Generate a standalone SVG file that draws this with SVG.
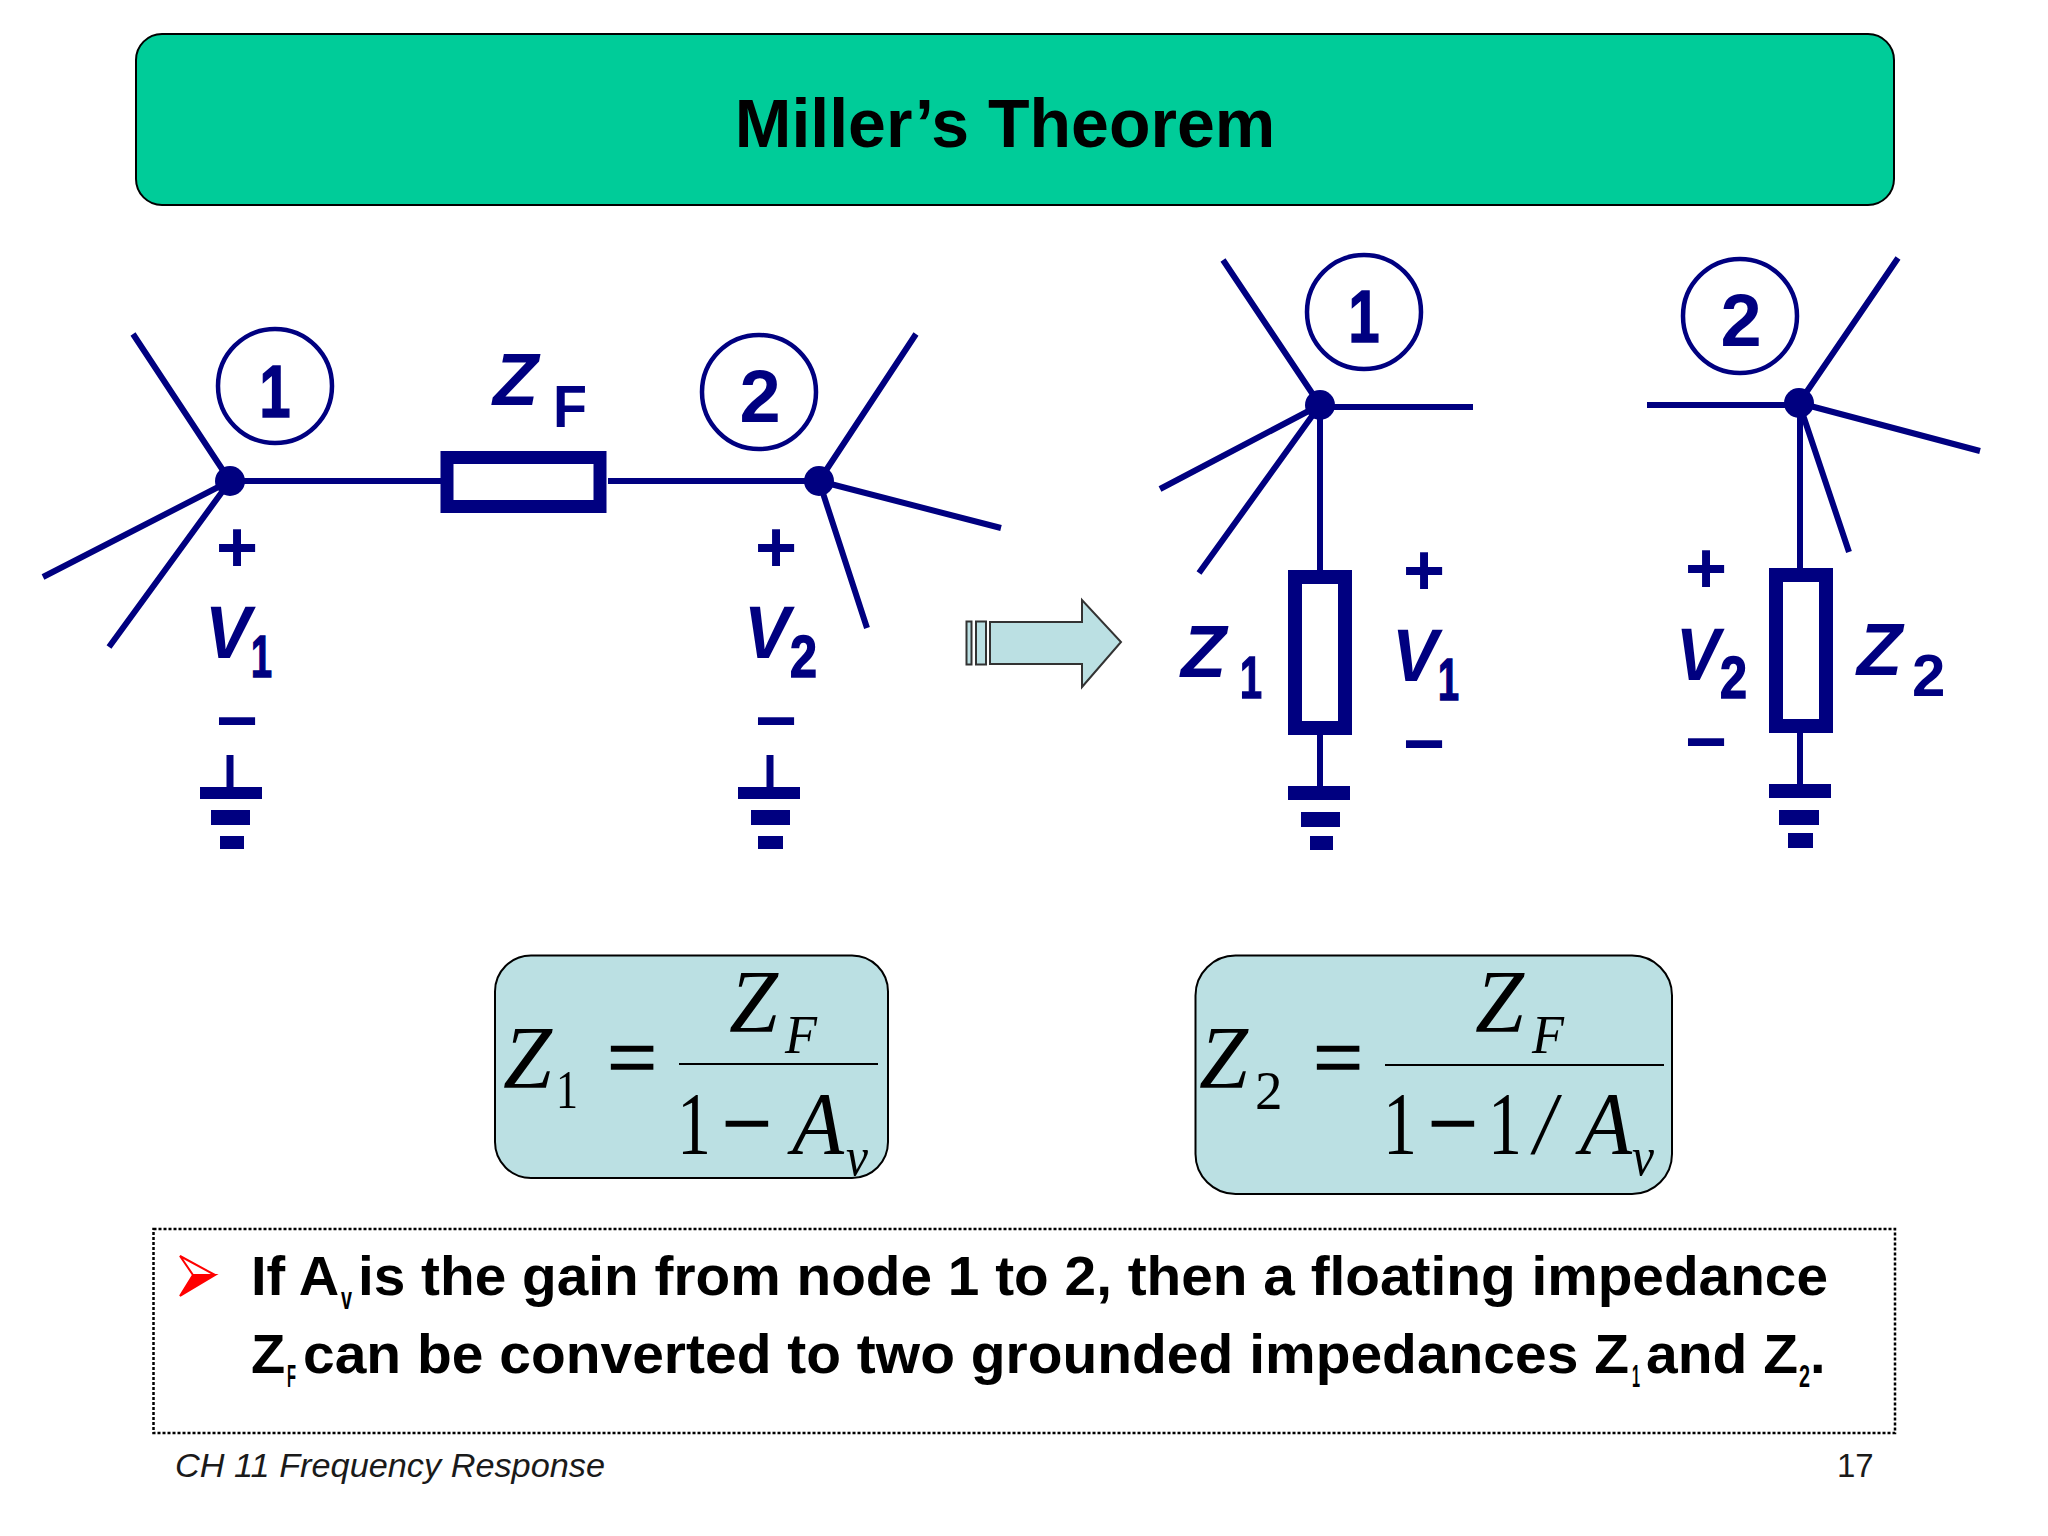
<svg xmlns="http://www.w3.org/2000/svg" width="2048" height="1536" viewBox="0 0 2048 1536">
<style>
.w{stroke:#000080;stroke-width:6;fill:none}
.c{stroke:#000080;stroke-width:4.500;fill:#fff}
.n{fill:#000080}
.s{font-family:"Liberation Sans",Arial,sans-serif}
.lab{font-family:"Liberation Sans",Arial,sans-serif;font-weight:bold;fill:#000080}
.fat{stroke:#000080;stroke-width:1.600}
.big{font-size:74px;font-style:italic}
.sub{font-size:60px}
.num{font-size:74px;text-anchor:middle}
.pm{font-size:72px;text-anchor:middle}
.m{font-family:"Liberation Serif","Times New Roman",serif;fill:#000}
.mi{font-size:88px;font-style:italic}
.mr{font-size:88px}
.ms{font-size:55px}
.th{stroke:#000;stroke-width:1.6}
.body{font-family:"Liberation Sans",Arial,sans-serif;font-weight:bold;font-size:56px;fill:#000}
.sb{font-family:"Liberation Sans",Arial,sans-serif;font-weight:bold;font-size:32px;fill:#000}
.foot{font-family:"Liberation Sans",Arial,sans-serif;font-size:33px;fill:#1a1a1a}
.box{fill:#BBE0E3;stroke:#000;stroke-width:2}
</style>
<rect width="2048" height="1536" fill="#fff"/>
<g id="title">
<rect x="136" y="34" width="1758" height="171" rx="26" fill="#00CC99" stroke="#000" stroke-width="2"/>
<text x="1005" y="147" text-anchor="middle" class="s" font-weight="bold" font-size="68" fill="#000">Miller’s Theorem</text>
</g>
<g id="connectors">
<path class="w" d="M133 334L230 481M43 577L230 481M109 647L230 481M230 481H441M608 481H819M916 334L819 481M1001 528L819 481M867 628L819 481"/>
<path class="w" d="M1223 260L1320 405M1473 407H1320M1160 489L1320 405M1199 573L1320 405M1320 405V575M1320 735V790"/>
<path class="w" d="M1898 258L1799 403M1647 405H1799M1980 451L1799 403M1849 552L1799 403M1800 403V575M1800 733V788"/>
<path class="w" d="M230 755V790M770 755V790" style="stroke-width:7"/>
</g>
<g id="node-1-left">
<circle class="n" cx="230" cy="481" r="15"/>
<circle class="c" cx="275" cy="386" r="57"/>
<text class="lab num fat" x="275" y="417" textLength="31" lengthAdjust="spacingAndGlyphs">1</text>
<text class="lab pm" x="237" y="572">+</text>
<text class="lab big" x="205" y="658" textLength="46" lengthAdjust="spacingAndGlyphs">V</text><text class="lab sub fat" x="251" y="677" textLength="21" lengthAdjust="spacingAndGlyphs">1</text>
<text class="lab pm" x="237" y="745">−</text>
<rect class="n" x="200" y="787" width="62" height="12"/><rect class="n" x="211" y="810" width="39" height="15"/><rect class="n" x="220" y="836" width="24" height="13"/>
</g>
<g id="impedance-zf">
<rect x="447" y="457.500" width="153" height="49" fill="#fff" stroke="#000080" stroke-width="13"/>
<text class="lab big" x="493" y="405">Z</text><text class="lab sub" x="553" y="427" textLength="34" lengthAdjust="spacingAndGlyphs">F</text>
</g>
<g id="node-2-left">
<circle class="n" cx="819" cy="481" r="15"/>
<circle class="c" cx="759" cy="392" r="57"/>
<text class="lab num" x="760" y="422">2</text>
<text class="lab pm" x="776" y="572">+</text>
<text class="lab big" x="744" y="658" textLength="46" lengthAdjust="spacingAndGlyphs">V</text><text class="lab sub fat" x="790" y="677" textLength="27" lengthAdjust="spacingAndGlyphs">2</text>
<text class="lab pm" x="776" y="745">−</text>
<rect class="n" x="738" y="787" width="62" height="12"/><rect class="n" x="751" y="810" width="39" height="15"/><rect class="n" x="758" y="836" width="25" height="13"/>
</g>
<g id="arrow">
<rect x="966.500" y="621.500" width="5" height="43" fill="#BBE0E3" stroke="#333" stroke-width="2"/>
<rect x="976" y="621.500" width="10" height="43" fill="#BBE0E3" stroke="#333" stroke-width="2"/>
<path d="M990 622H1082V600L1121 642L1082 687V664H990Z" fill="#BBE0E3" stroke="#333" stroke-width="2"/>
</g>
<g id="node-1-right">
<circle class="n" cx="1320" cy="405" r="15"/>
<circle class="c" cx="1364" cy="312" r="57"/>
<text class="lab num fat" x="1364" y="342" textLength="31" lengthAdjust="spacingAndGlyphs">1</text>
<rect x="1295" y="577" width="50" height="151" fill="#fff" stroke="#000080" stroke-width="14"/>
<text class="lab big" x="1181" y="677">Z</text><text class="lab sub fat" x="1240" y="698" textLength="22" lengthAdjust="spacingAndGlyphs">1</text>
<text class="lab pm" x="1424" y="595">+</text>
<text class="lab big" x="1392" y="681" textLength="46" lengthAdjust="spacingAndGlyphs">V</text><text class="lab sub fat" x="1438" y="700" textLength="21" lengthAdjust="spacingAndGlyphs">1</text>
<text class="lab pm" x="1424" y="768">−</text>
<rect class="n" x="1288" y="786" width="62" height="14"/><rect class="n" x="1301" y="812" width="39" height="15"/><rect class="n" x="1310" y="836" width="23" height="14"/>
</g>
<g id="node-2-right">
<circle class="n" cx="1799" cy="403" r="15"/>
<circle class="c" cx="1740" cy="316" r="57"/>
<text class="lab num" x="1741" y="346">2</text>
<rect x="1776" y="575" width="50" height="151" fill="#fff" stroke="#000080" stroke-width="14"/>
<text class="lab big" x="1857" y="675">Z</text><text class="lab sub" x="1912" y="696">2</text>
<text class="lab pm" x="1706" y="593">+</text>
<text class="lab big" x="1676" y="680" textLength="44" lengthAdjust="spacingAndGlyphs">V</text><text class="lab sub fat" x="1720" y="698" textLength="27" lengthAdjust="spacingAndGlyphs">2</text>
<text class="lab pm" x="1706" y="766">−</text>
<rect class="n" x="1769" y="784" width="62" height="14"/><rect class="n" x="1779" y="810" width="40" height="15"/><rect class="n" x="1788" y="833" width="25" height="15"/>
</g>
<g id="formula-z1">
<rect class="box" x="495" y="955.500" width="393" height="222.500" rx="36"/>
<text class="m mi" x="503" y="1087">Z</text><text class="m ms" x="556" y="1108" textLength="22" lengthAdjust="spacingAndGlyphs">1</text>
<text class="m mr th" x="632" y="1087" text-anchor="middle">=</text>
<line x1="679" y1="1064" x2="878" y2="1064" stroke="#000" stroke-width="2"/>
<text class="m mi" x="729" y="1031">Z</text><text class="m mi" style="font-size:55px" x="785" y="1053" textLength="32" lengthAdjust="spacingAndGlyphs">F</text>
<text class="m mr" x="677" y="1153" textLength="34" lengthAdjust="spacingAndGlyphs">1</text>
<text class="m mr th" x="747" y="1153" text-anchor="middle">−</text>
<text class="m mi" x="792" y="1153" textLength="52" lengthAdjust="spacingAndGlyphs">A</text><text class="m mi" style="font-size:55px" x="846" y="1175" textLength="22" lengthAdjust="spacingAndGlyphs">v</text>
</g>
<g id="formula-z2">
<rect class="box" x="1195.500" y="955.500" width="476.500" height="238.500" rx="40"/>
<text class="m mi" x="1199" y="1087">Z</text><text class="m ms" x="1255" y="1109">2</text>
<text class="m mr th" x="1338" y="1087" text-anchor="middle">=</text>
<line x1="1385" y1="1065" x2="1664" y2="1065" stroke="#000" stroke-width="2"/>
<text class="m mi" x="1475" y="1031">Z</text><text class="m mi" style="font-size:55px" x="1532" y="1053" textLength="32" lengthAdjust="spacingAndGlyphs">F</text>
<text class="m mr" x="1383" y="1153" textLength="34" lengthAdjust="spacingAndGlyphs">1</text>
<text class="m mr th" x="1453" y="1153" text-anchor="middle">−</text>
<text class="m mr" x="1488" y="1153" textLength="34" lengthAdjust="spacingAndGlyphs">1</text>
<text class="m mi" x="1534" y="1153" textLength="22" lengthAdjust="spacingAndGlyphs">/</text>
<text class="m mi" x="1580" y="1153" textLength="52" lengthAdjust="spacingAndGlyphs">A</text><text class="m mi" style="font-size:55px" x="1632" y="1175" textLength="22" lengthAdjust="spacingAndGlyphs">v</text>
</g>
<g id="note">
<rect x="153.500" y="1229" width="1741.500" height="204" fill="none" stroke="#000" stroke-width="2.500" stroke-dasharray="3 2"/>
<path d="M180 1256L215 1275H193Z" fill="#fff" stroke="#f00" stroke-width="2"/>
<path d="M180 1296L215 1275H193Z" fill="#f00" stroke="#f00" stroke-width="2"/>
<text class="body" x="251" y="1295">If A</text>
<text class="sb" x="341" y="1309" textLength="11" lengthAdjust="spacingAndGlyphs">v</text>
<text class="body" x="358" y="1295" textLength="1470" lengthAdjust="spacingAndGlyphs">is the gain from node 1 to 2, then a floating impedance</text>
<text class="body" x="251" y="1373">Z</text>
<text class="sb" x="287" y="1387" textLength="9" lengthAdjust="spacingAndGlyphs">F</text>
<text class="body" x="303" y="1373" textLength="1326" lengthAdjust="spacingAndGlyphs">can be converted to two grounded impedances Z</text>
<text class="sb" x="1632" y="1387" textLength="8" lengthAdjust="spacingAndGlyphs">1</text>
<text class="body" x="1646" y="1373" textLength="152" lengthAdjust="spacingAndGlyphs">and Z</text>
<text class="sb" x="1799" y="1387" textLength="11" lengthAdjust="spacingAndGlyphs">2</text>
<text class="body" x="1810" y="1373">.</text>
</g>
<g id="footer">
<text class="foot" font-style="italic" x="175" y="1477" textLength="430" lengthAdjust="spacingAndGlyphs">CH 11 Frequency Response</text>
<text class="foot" x="1837" y="1477">17</text>
</g>
</svg>
